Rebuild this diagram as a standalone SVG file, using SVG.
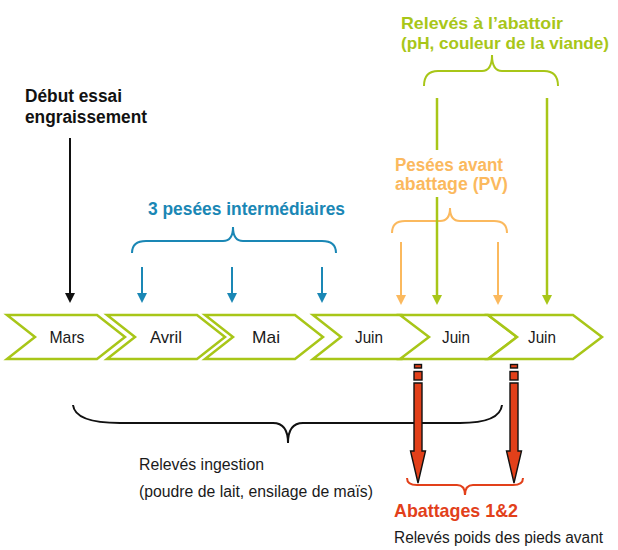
<svg xmlns="http://www.w3.org/2000/svg" width="618" height="550" viewBox="0 0 618 550">
<style>
text{font-family:"Liberation Sans","Noto Sans",sans-serif}
.b{font-weight:bold}
.lbl{font-size:17px;fill:#1a1a1a;text-anchor:middle}
.reg{font-size:16px;fill:#1a1a1a}
.chev{fill:#fff;stroke:#a8c618;stroke-width:2.5;stroke-linejoin:miter}
.br{fill:none;stroke-width:2}
.red{fill:#e2401a;stroke:#111;stroke-width:1.4}
</style>
<defs>
<marker id="hk" viewBox="0 0 10 10" refX="6" refY="5" markerWidth="10" markerHeight="10" markerUnits="userSpaceOnUse" orient="auto"><path d="M0,0 L10,5 L0,10 z" fill="#111"/></marker>
<marker id="hb" viewBox="0 0 10 10" refX="6" refY="5" markerWidth="10" markerHeight="10" markerUnits="userSpaceOnUse" orient="auto"><path d="M0,0 L10,5 L0,10 z" fill="#1a87b5"/></marker>
<marker id="ho" viewBox="0 0 10 10" refX="6" refY="5" markerWidth="10" markerHeight="10" markerUnits="userSpaceOnUse" orient="auto"><path d="M0,0 L10,5 L0,10 z" fill="#fbb95e"/></marker>
<marker id="hg" viewBox="0 0 10 10" refX="6" refY="5" markerWidth="10" markerHeight="10" markerUnits="userSpaceOnUse" orient="auto"><path d="M0,0 L10,5 L0,10 z" fill="#a8c618"/></marker>
</defs>

<g id="mars"><polygon class="chev" points="7,315 97,315 125,337 97,359 7,359 35,337"/><text class="lbl" x="67" y="343" textLength="35" lengthAdjust="spacingAndGlyphs">Mars</text></g>
<g id="avril"><polygon class="chev" points="107,315 197,315 225,337 197,359 107,359 135,337"/><text class="lbl" x="166" y="343" textLength="32" lengthAdjust="spacingAndGlyphs">Avril</text></g>
<g id="mai"><polygon class="chev" points="205,315 295,315 323,337 295,359 205,359 233,337"/><text class="lbl" x="266" y="343" textLength="28" lengthAdjust="spacingAndGlyphs">Mai</text></g>
<g id="juin1"><polygon class="chev" points="313,315 402,315 430,337 402,359 313,359 341,337"/><text class="lbl" x="369" y="343" textLength="28" lengthAdjust="spacingAndGlyphs">Juin</text></g>
<g id="juin2"><polygon class="chev" points="400,315 488,315 517,337 488,359 400,359 429,337"/><text class="lbl" x="456" y="343" textLength="28" lengthAdjust="spacingAndGlyphs">Juin</text></g>
<g id="juin3"><polygon class="chev" points="488,315 573,315 602,337 573,359 488,359 517,337"/><text class="lbl" x="542" y="343" textLength="28" lengthAdjust="spacingAndGlyphs">Juin</text></g>

<g id="debut">
<text class="b" font-size="17.5" fill="#111" x="25" y="102" textLength="97" lengthAdjust="spacingAndGlyphs">Début essai</text>
<text class="b" font-size="17.5" fill="#111" x="25" y="123" textLength="122" lengthAdjust="spacingAndGlyphs">engraissement</text>
</g>

<g id="pesees-inter">
<text class="b" font-size="18" fill="#1a87b5" x="148" y="215" textLength="197" lengthAdjust="spacingAndGlyphs">3 pesées intermédiaires</text>
<path class="br" stroke="#1a87b5" d="M132,253 Q132,241 146,241 H223 Q233,241 233,227 Q233,241 243,241 H322 Q336,241 336,253"/>
</g>

<g id="abattoir">
<text class="b" font-size="16.5" fill="#a8c618" x="401" y="29" textLength="162" lengthAdjust="spacingAndGlyphs">Relevés à l’abattoir</text>
<text class="b" font-size="16.5" fill="#a8c618" x="401" y="49" textLength="208" lengthAdjust="spacingAndGlyphs">(pH, couleur de la viande)</text>
<path class="br" stroke="#a8c618" d="M424,86 Q424,71 438,71 H482 Q492,71 492,55 Q492,71 502,71 H544 Q558,71 558,86"/>
</g>

<g id="pesees-pv">
<text class="b" font-size="18" fill="#fbb95e" x="395" y="171" textLength="108" lengthAdjust="spacingAndGlyphs">Pesées avant</text>
<text class="b" font-size="18" fill="#fbb95e" x="395" y="190" textLength="113" lengthAdjust="spacingAndGlyphs">abattage (PV)</text>
<path class="br" stroke="#fbb95e" d="M392,233 Q392,221 405,221 H440 Q450,221 450,208 Q450,221 460,221 H494 Q507,221 507,233"/>
</g>

<g id="ingestion">
<path class="br" stroke="#111" d="M73,405 Q75,423 120,423 H273 Q288,423 288,443 Q288,423 303,423 H460 Q500,423 502,405"/>
<text class="reg" x="139" y="470" textLength="125" lengthAdjust="spacingAndGlyphs">Relevés ingestion</text>
<text class="reg" x="139" y="497" textLength="234" lengthAdjust="spacingAndGlyphs">(poudre de lait, ensilage de maïs)</text>
</g>

<g id="connectors">
<line x1="70" y1="138" x2="70" y2="299" stroke="#111" stroke-width="2" marker-end="url(#hk)"/>
<line x1="142" y1="267" x2="142" y2="299" stroke="#1a87b5" stroke-width="2" marker-end="url(#hb)"/>
<line x1="232" y1="267" x2="232" y2="299" stroke="#1a87b5" stroke-width="2" marker-end="url(#hb)"/>
<line x1="322" y1="267" x2="322" y2="299" stroke="#1a87b5" stroke-width="2" marker-end="url(#hb)"/>
<line x1="401" y1="242" x2="401" y2="301" stroke="#fbb95e" stroke-width="2" marker-end="url(#ho)"/>
<line x1="498" y1="242" x2="498" y2="301" stroke="#fbb95e" stroke-width="2" marker-end="url(#ho)"/>
<line x1="437" y1="98" x2="437" y2="150" stroke="#a8c618" stroke-width="2.5"/>
<line x1="437" y1="197" x2="437" y2="301" stroke="#a8c618" stroke-width="2.5" marker-end="url(#hg)"/>
<line x1="547" y1="98" x2="547" y2="301" stroke="#a8c618" stroke-width="2.5" marker-end="url(#hg)"/>
</g>

<g id="abattages">
<g class="red">
<rect x="414.5" y="364.5" width="7" height="3.5"/>
<rect x="414" y="371.5" width="8" height="8.5"/>
<polygon points="414,383 422,383 422,451 425.5,451 418,483 410.5,451 414,451"/>
<rect x="510.5" y="364.5" width="7" height="3.5"/>
<rect x="510" y="371.5" width="8" height="8.5"/>
<polygon points="510,383 518,383 518,451 521.5,451 514,483 506.5,451 510,451"/>
</g>
<path class="br" stroke="#e2401a" d="M407,478 Q407,485 417,485 H457 Q465,485 465,495 Q465,485 473,485 H513 Q523,485 523,478"/>
<text class="b" font-size="19" fill="#e2401a" x="394" y="517" textLength="124" lengthAdjust="spacingAndGlyphs">Abattages 1&amp;2</text>
<text class="reg" x="394" y="543" textLength="209" lengthAdjust="spacingAndGlyphs">Relevés poids des pieds avant</text>
</g>
</svg>
